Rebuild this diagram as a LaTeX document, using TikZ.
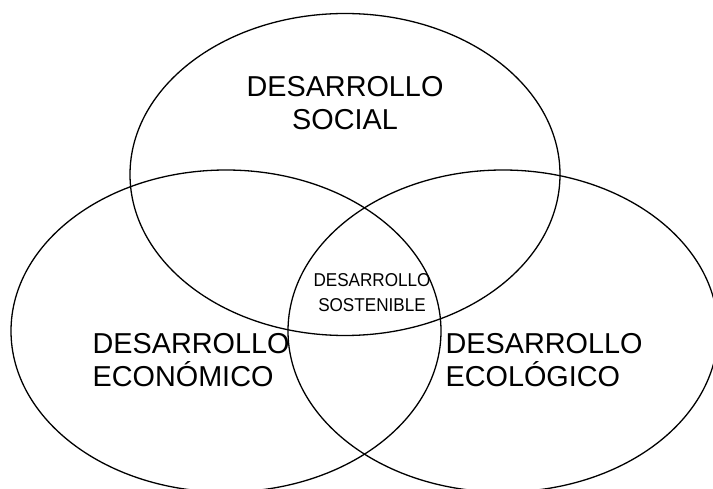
\documentclass[tikz,border=0pt]{standalone}
\usepackage{fontspec}
\setmainfont{Liberation Sans}
\newfontfamily\strettofont[FakeStretch=0.92]{Liberation Sans}
\usetikzlibrary{shapes.geometric}

\begin{document}
\begin{tikzpicture}[x=1pt, y=-1pt, line width=1.3pt,
        insieme/.style={ellipse, draw, minimum width=430pt, minimum height=322pt, inner sep=0pt},
        etichetta/.style={inner sep=0pt, font=\fontsize{28.8}{33}\selectfont},
        centro/.style={inner sep=0pt, align=center, font=\strettofont\fontsize{18.6}{25}\selectfont}]
        \useasboundingbox (0,0) rectangle (713,489);

        % Insiemi
        \node (soc) at (345,174.5) [insieme] {};
        \node (eco) at (226,331) [insieme] {};
        \node (ecl) at (503,331) [insieme] {};

        % Etichette
        \node (tsoc) at (345,130) [etichetta, anchor=base, align=center] {DESARROLLO\\SOCIAL};
        \node (teco) at (92,387) [etichetta, anchor=base west, align=left] {DESARROLLO\\ECONÓMICO};
        \node (tecl) at (445,387) [etichetta, anchor=base west, align=left] {DESARROLLO\\ECOLÓGICO};
        \node (tsos) at (372,312) [centro, anchor=base] {DESARROLLO\\SOSTENIBLE};
    \end{tikzpicture}
\end{document}
